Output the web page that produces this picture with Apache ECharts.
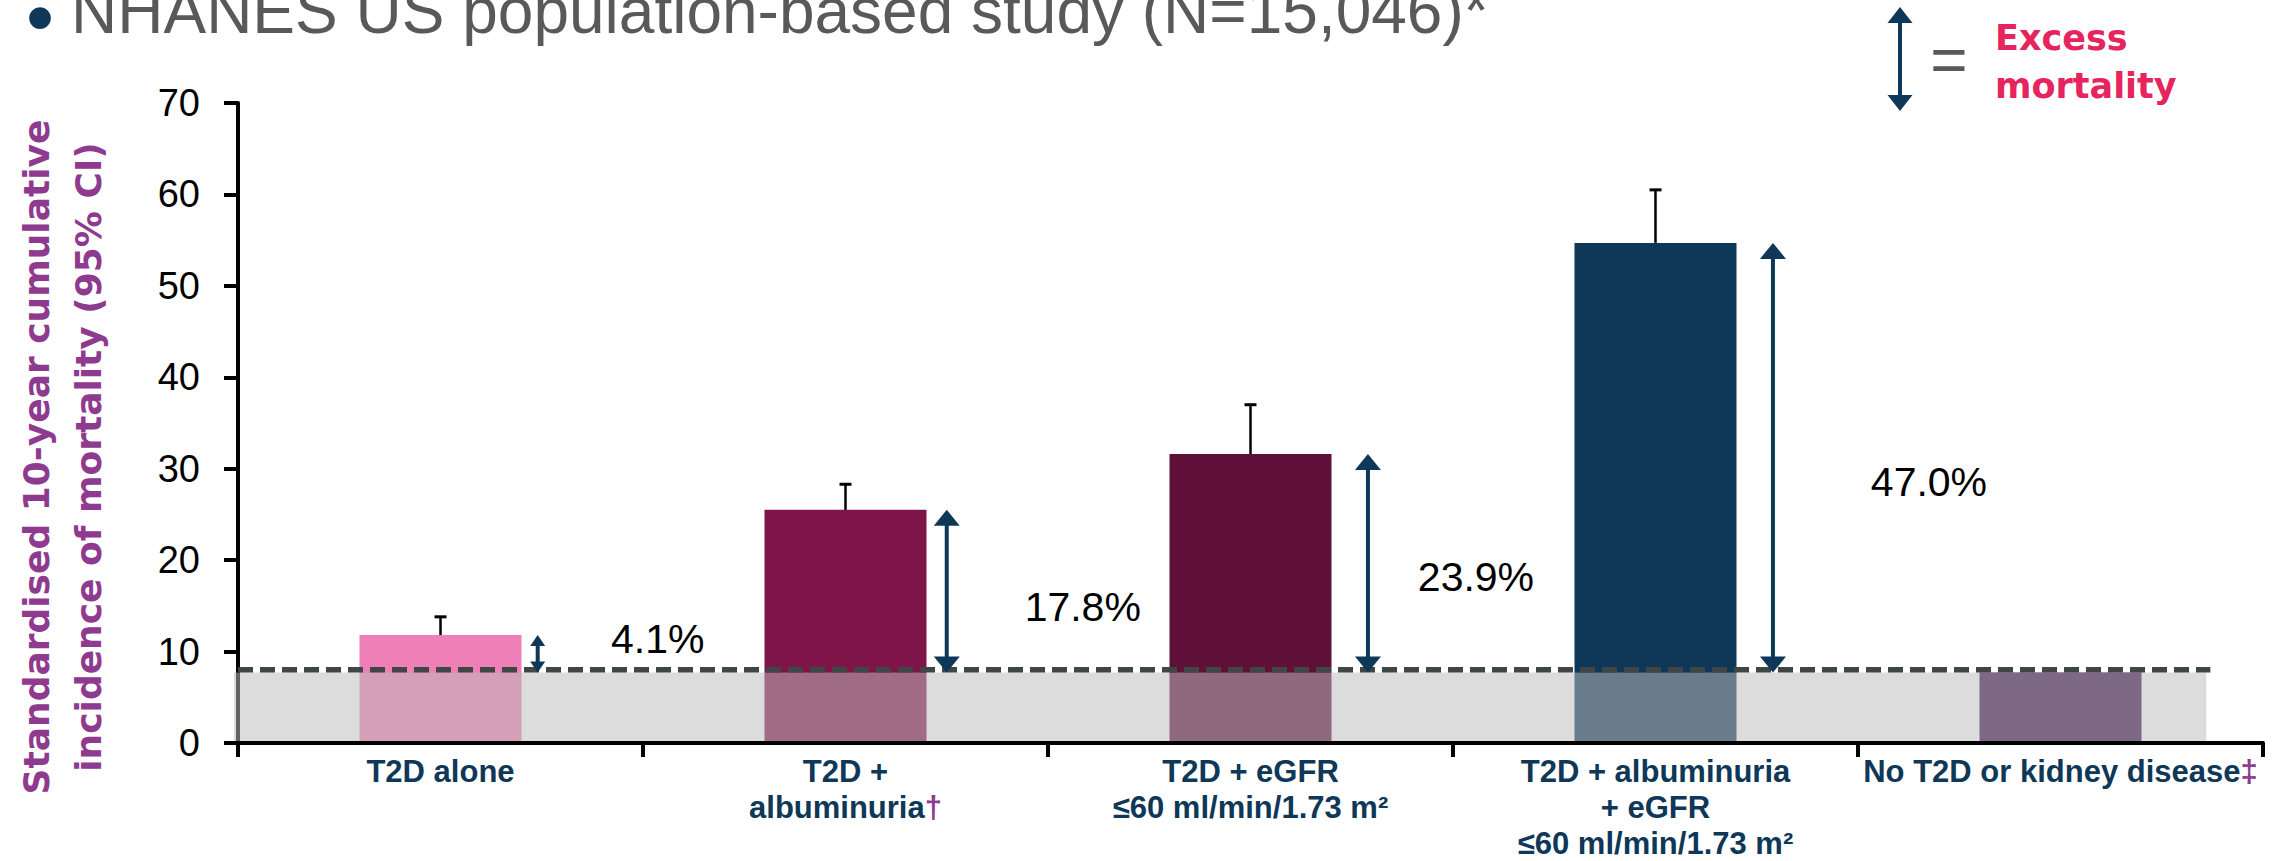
<!DOCTYPE html>
<html>
<head>
<meta charset="utf-8">
<script src="https://cdn.jsdelivr.net/npm/echarts@6/dist/echarts.min.js"></script>
<style>
  html, body { margin: 0; padding: 0; background: #ffffff; }
  #chart { width: 2288px; height: 861px; }
</style>
</head>
<body>
<div id="chart"></div>
<script>
// ---- Data ----
const categories = [
  'T2D alone',
  'T2D +\nalbuminuria',
  'T2D + eGFR\n≤60 ml/min/1.73 m²',
  'T2D + albuminuria\n+ eGFR\n≤60 ml/min/1.73 m²',
  'No T2D or kidney disease'
];
const footnoteMarks = ['', '†', '', '', '‡'];
// Standardised 10-year cumulative incidence of mortality (%)
const incidence = [11.8, 25.5, 31.6, 54.7, 7.7];
// Upper bound of the 95% CI
const ciUpper = [13.8, 28.3, 37.0, 60.5, null];
// Reference group (no T2D or kidney disease)
const referenceLevel = 7.7;
// Excess mortality over the reference group (%)
const excessMortality = [4.1, 17.8, 23.9, 47.0];
const yMin = 0, yMax = 70, yStep = 10;

// ---- Styling ----
const NAVY = '#0E3758';
const PURPLE = '#8E3A8E';
const barColors = ['#EE7FB7', '#7F1449', '#5E1039', '#0E3758', '#3A0E4C'];
const barWidthRatio = 0.4;
const arrowGap = [0.04, 0.05, 0.09, 0.09];              // distance right of each bar (category units)
const arrowHead = [[15, 11], [26, 16], [26, 16], [26, 16]]; // [width, length] px
const labelShift = [[120, -15], [136, 16], [108, 14], [156, 24]]; // px from arrow midpoint
const bandEnd = 4.86;
const SANS = '"Liberation Sans", Arial, sans-serif';
const GOTHIC = '"DejaVu Sans", sans-serif';

const chart = echarts.init(document.getElementById('chart'), null, { renderer: 'svg' });

function categoryLabel(value, index) {
  const lines = categories[index].split('\n');
  return lines.map((l, k) => {
    let s = '{c|' + l + '}';
    if (k === lines.length - 1 && footnoteMarks[index]) s += '{d|' + footnoteMarks[index] + '}';
    return s;
  }).join('\n');
}

const option = {
  animation: false,
  backgroundColor: '#ffffff',
  grid: { left: 238, right: 25, top: 103, bottom: 118, containLabel: false },
  xAxis: [
    {
      type: 'category',
      data: categories,
      z: 10,
      axisLine: { show: true, lineStyle: { color: '#000', width: 4 } },
      axisTick: { show: true, length: 14, lineStyle: { color: '#000', width: 4 } },
      axisLabel: {
        interval: 0,
        margin: 10,
        hideOverlap: false,
        formatter: categoryLabel,
        rich: {
          c: { fontFamily: SANS, fontWeight: 'bold', fontSize: 31, color: NAVY, lineHeight: 36 },
          d: { fontFamily: SANS, fontWeight: 'bold', fontSize: 31, color: PURPLE, lineHeight: 36 }
        }
      },
      splitLine: { show: false }
    },
    {
      type: 'value',
      min: 0,
      max: categories.length,
      show: false
    }
  ],
  yAxis: {
    type: 'value',
    min: yMin,
    max: yMax,
    interval: yStep,
    axisLine: { show: true, lineStyle: { color: '#000', width: 4 } },
    axisTick: { show: true, length: 14, lineStyle: { color: '#000', width: 4 } },
    axisLabel: { fontFamily: SANS, fontSize: 38, color: '#000', margin: 38 },
    splitLine: { show: false }
  },
  graphic: [
    // slide heading
    { type: 'text', x: 40, y: 17, style: { text: '•', font: '80px ' + SANS, fill: NAVY, align: 'center', verticalAlign: 'middle' } },
    { type: 'text', x: 71, y: 11, style: { text: 'NHANES US population-based study (N=15,046)*', font: '64px ' + SANS, fill: '#595959', align: 'left', verticalAlign: 'middle' } },
    // key: double arrow = excess mortality
    { type: 'line', shape: { x1: 1900, y1: 22, x2: 1900, y2: 96 }, style: { stroke: NAVY, lineWidth: 4 } },
    { type: 'polygon', shape: { points: [[1900, 7], [1887.5, 23], [1912.5, 23]] }, style: { fill: NAVY } },
    { type: 'polygon', shape: { points: [[1900, 111], [1887.5, 95], [1912.5, 95]] }, style: { fill: NAVY } },
    { type: 'text', x: 1949, y: 60, style: { text: '=', font: '64px ' + SANS, fill: '#595959', align: 'center', verticalAlign: 'middle' } },
    { type: 'text', x: 1995, y: 62, style: { text: 'Excess\nmortality', font: 'bold 35px ' + GOTHIC, lineHeight: 48, fill: '#E6245E', align: 'left', verticalAlign: 'middle' } },
    // y-axis title
    { type: 'text', x: 62, y: 457, rotation: Math.PI / 2,
      style: { text: 'Standardised 10-year cumulative\nincidence of mortality (95% CI)', font: 'bold 36px ' + GOTHIC, lineHeight: 52, fill: PURPLE, align: 'center', verticalAlign: 'middle' } }
  ],
  series: [
    {
      name: 'Incidence',
      type: 'bar',
      z: 2,
      barWidth: (barWidthRatio * 100) + '%',
      data: incidence.map((v, i) => ({ value: v, itemStyle: { color: barColors[i] } }))
    },
    {
      // shaded reference band and dashed reference line
      name: 'Reference',
      type: 'custom',
      xAxisIndex: 1,
      z: 3,
      data: [[0, referenceLevel]],
      renderItem(params, api) {
        const lo = api.coord([0, 0]);
        const hi = api.coord([bandEnd, api.value(1)]);
        const lineEnd = api.coord([bandEnd + 0.01, api.value(1)]);
        const lw = 5.5;
        return {
          type: 'group',
          children: [
            { type: 'rect', shape: { x: lo[0] - 4, y: hi[1], width: hi[0] - lo[0] + 4, height: lo[1] - hi[1] - 2 },
              style: { fill: 'rgba(188,188,188,0.52)' } },
            { type: 'line', shape: { x1: lo[0], y1: hi[1] - lw / 2, x2: lineEnd[0], y2: hi[1] - lw / 2 },
              style: { stroke: '#404545', lineWidth: lw, lineDash: [15, 7] } }
          ]
        };
      }
    },
    {
      // upper 95% CI whiskers
      name: '95% CI',
      type: 'custom',
      z: 5,
      encode: { x: 0, y: [1, 2] },
      data: incidence.map((v, i) => [i, v, ciUpper[i]]).filter(d => d[2] != null),
      renderItem(params, api) {
        const i = api.value(0);
        const base = api.coord([i, api.value(1)]);
        const top = api.coord([i, api.value(2)]);
        return {
          type: 'group',
          children: [
            { type: 'line', shape: { x1: base[0], y1: base[1], x2: top[0], y2: top[1] }, style: { stroke: '#000', lineWidth: 2.5 } },
            { type: 'line', shape: { x1: top[0] - 6, y1: top[1], x2: top[0] + 6, y2: top[1] }, style: { stroke: '#000', lineWidth: 3 } }
          ]
        };
      }
    },
    {
      // excess mortality arrows with their labels
      name: 'Excess mortality',
      type: 'custom',
      xAxisIndex: 1,
      z: 6,
      encode: { x: 0, y: 1 },
      data: excessMortality.map((v, i) => [i, v]),
      renderItem(params, api) {
        const i = api.value(0);
        const v = api.value(1);
        const x = i + 0.5 + barWidthRatio / 2 + arrowGap[i];
        const top = api.coord([x, referenceLevel + v]);
        const bot = api.coord([x, referenceLevel]);
        const [hw, hl] = arrowHead[i];
        const px = top[0];
        const mid = (top[1] + bot[1]) / 2;
        return {
          type: 'group',
          children: [
            { type: 'line', shape: { x1: px, y1: top[1] + hl - 1, x2: px, y2: bot[1] - hl + 1 }, style: { stroke: NAVY, lineWidth: 4 } },
            { type: 'polygon', shape: { points: [[px, top[1]], [px - hw / 2, top[1] + hl], [px + hw / 2, top[1] + hl]] }, style: { fill: NAVY } },
            { type: 'polygon', shape: { points: [[px, bot[1]], [px - hw / 2, bot[1] - hl], [px + hw / 2, bot[1] - hl]] }, style: { fill: NAVY } },
            { type: 'text', x: px + labelShift[i][0], y: mid + labelShift[i][1],
              style: { text: v.toFixed(1) + '%', font: '41px ' + SANS, fill: '#000', align: 'center', verticalAlign: 'middle' } }
          ]
        };
      }
    }
  ]
};

chart.setOption(option);
</script>
</body>
</html>
